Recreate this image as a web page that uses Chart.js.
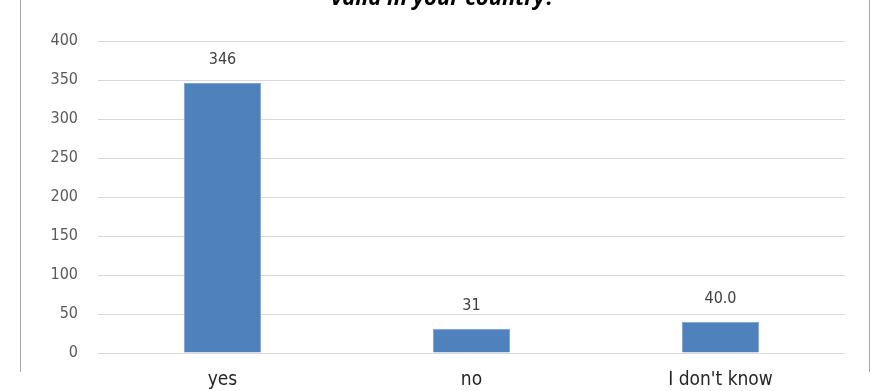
<!DOCTYPE html>
<html>
<head>
<meta charset="utf-8">
<script src="https://cdn.jsdelivr.net/npm/chart.js@4"></script>
<style>
  html, body { margin: 0; padding: 0; background: #fff; overflow: hidden; }
  #wrap { position: absolute; left: 0; top: -20px; width: 872px; height: 411px; }
</style>
</head>
<body>
<div id="wrap"><canvas id="myChart"></canvas></div>
<script>
// answers and counts
var categories = ['yes', 'no', "I don't know"];
var counts = [346, 31, 40];
var countText = ['346', '31', '40.0'];
var yTicks = [0, 50, 100, 150, 200, 250, 300, 350, 400];
var titleText = 'valid in your country?';

var FONT = "'DejaVu Sans Condensed', 'Liberation Sans Narrow', 'Open Sans', sans-serif";

// title line, outer frame and the numbers over each bar
const decorations = {
  id: 'decorations',
  afterDatasetsDraw: function(chart) {
    const ctx = chart.ctx;
    ctx.save();
    ctx.strokeStyle = '#a6a6a6';
    ctx.lineWidth = 1;
    ctx.beginPath();
    ctx.moveTo(20.5, 0);
    ctx.lineTo(20.5, 392);
    ctx.moveTo(869.5, 0);
    ctx.lineTo(869.5, 392);
    ctx.stroke();

    ctx.fillStyle = '#000';
    ctx.font = "italic bold 22px 'Open Sans', sans-serif";
    ctx.textAlign = 'center';
    ctx.textBaseline = 'alphabetic';
    ctx.fillText(titleText, 443, 25);

    ctx.fillStyle = '#404040';
    ctx.font = '16px ' + FONT;
    ctx.textBaseline = 'middle';
    const meta = chart.getDatasetMeta(0);
    meta.data.forEach(function(bar, i) {
      ctx.fillText(countText[i], bar.x, bar.y - 23);
    });
    ctx.restore();
  }
};

var data = {
  labels: categories,
  datasets: [{
    data: counts,
    backgroundColor: '#4f81bd',
    borderColor: '#7fa3d0',
    borderWidth: 1,
    categoryPercentage: 1,
    barPercentage: 0.31
  }]
};

const config = {
  type: 'bar',
  data: data,
  plugins: [decorations],
  options: {
    responsive: true,
    maintainAspectRatio: false,
    animation: false,
    layout: { padding: { top: 61, left: 20, right: 27, bottom: 0 } },
    plugins: {
      legend: { display: false },
      tooltip: { enabled: false },
      title: { display: false }
    },
    scales: {
      y: {
        min: 0,
        max: 400,
        afterBuildTicks: function(axis) {
          axis.ticks = yTicks.map(function(v) { return { value: v }; });
        },
        afterFit: function(axis) { axis.width = 78; },
        border: { display: false },
        grid: { color: '#d9d9d9', drawTicks: false },
        ticks: {
          padding: 20,
          color: '#595959',
          font: { family: FONT, size: 16 }
        }
      },
      x: {
        afterFit: function(axis) { axis.height = 38; },
        border: { display: false },
        grid: { display: false },
        ticks: {
          padding: 8,
          color: '#262626',
          font: { family: FONT, size: 19 }
        }
      }
    }
  }
};

const myChart = new Chart(document.getElementById('myChart'), config);
</script>
</body>
</html>
